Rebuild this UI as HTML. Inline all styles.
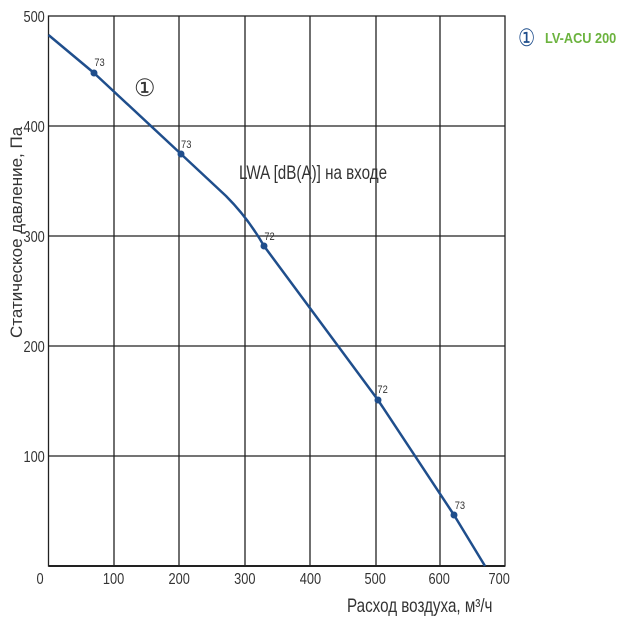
<!DOCTYPE html>
<html><head><meta charset="utf-8"><style>
body{margin:0;background:#fff;width:630px;height:630px;overflow:hidden}
text{font-family:"Liberation Sans",sans-serif;fill:#333}
</style></head><body>
<svg width="630" height="630" viewBox="0 0 630 630" xmlns="http://www.w3.org/2000/svg">
<g stroke="#222" stroke-width="1.3" fill="none">
<rect x="48.5" y="16" width="456.5" height="550"/>
<line x1="114" y1="16" x2="114" y2="566"/>
<line x1="179" y1="16" x2="179" y2="566"/>
<line x1="245" y1="16" x2="245" y2="566"/>
<line x1="310" y1="16" x2="310" y2="566"/>
<line x1="376" y1="16" x2="376" y2="566"/>
<line x1="440" y1="16" x2="440" y2="566"/>
<line x1="48.5" y1="126" x2="505" y2="126"/>
<line x1="48.5" y1="236" x2="505" y2="236"/>
<line x1="48.5" y1="346" x2="505" y2="346"/>
<line x1="48.5" y1="456" x2="505" y2="456"/>
</g>
<line x1="48.5" y1="566" x2="505" y2="566" stroke="#222" stroke-width="2"/>
<path d="M48.5,35 L94,73 L181,154 L226,196 Q248,218 264,246 L378,400 L454,515 L485,566" stroke="#1f4e8c" stroke-width="2.5" fill="none" stroke-linejoin="round"/>
<g fill="#1f4e8c">
<circle cx="94" cy="73" r="3.5"/><circle cx="181" cy="154" r="3.5"/><circle cx="264" cy="246" r="3.5"/><circle cx="378" cy="400" r="3.5"/><circle cx="454" cy="515" r="3.5"/>
</g>
<g font-size="11" transform="scale(0.85,1)">
<text x="111" y="66">73</text><text x="213" y="148">73</text><text x="311" y="240">72</text><text x="444" y="393">72</text><text x="535" y="509">73</text>
</g>
<text x="134" y="96" font-size="24" fill="#444">①</text>
<g font-size="16" transform="scale(0.8,1)">
<text x="56" y="22" text-anchor="end">500</text>
<text x="56" y="132" text-anchor="end">400</text>
<text x="56" y="242" text-anchor="end">300</text>
<text x="56" y="352" text-anchor="end">200</text>
<text x="56" y="462" text-anchor="end">100</text>
<text x="50" y="584" text-anchor="middle">0</text>
<text x="142" y="584" text-anchor="middle">100</text>
<text x="224" y="584" text-anchor="middle">200</text>
<text x="306" y="584" text-anchor="middle">300</text>
<text x="388" y="584" text-anchor="middle">400</text>
<text x="469" y="584" text-anchor="middle">500</text>
<text x="549" y="584" text-anchor="middle">600</text>
<text x="624" y="584" text-anchor="middle">700</text>
</g>
<text transform="translate(347,612) scale(0.8,1)" font-size="19">Расход воздуха, м³/ч</text>
<text transform="translate(239,179) scale(0.8,1)" font-size="19">LWA [dB(A)] на входе</text>
<text transform="translate(22,338) rotate(-90)" font-size="17" fill="#333">Статическое давление, Па</text>
<text transform="translate(518,46) scale(0.8,1)" font-size="24" style="fill:#1f4e8c">①</text>
<text transform="translate(545,43) scale(0.85,1)" font-size="15" font-weight="bold" style="fill:#6cb33f">LV-ACU 200</text>
</svg>
</body></html>
